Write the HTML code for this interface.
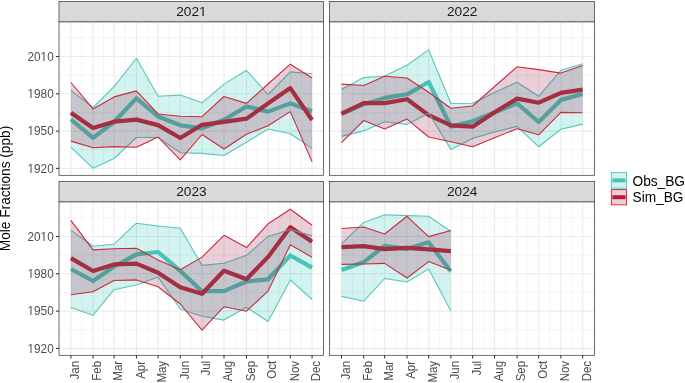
<!DOCTYPE html>
<html><head><meta charset="utf-8"><style>
html,body{margin:0;padding:0;background:#fff;}
body{width:685px;height:383px;overflow:hidden;}
svg{display:block;font-family:"Liberation Sans",sans-serif;will-change:transform;}
</style></head><body>
<svg width="685" height="383" viewBox="0 0 685 383" shape-rendering="auto">
<rect x="0" y="0" width="685" height="383" fill="#fff"/>
<defs>
<clipPath id="c2021"><rect x="59" y="21.8" width="264.5" height="153.5"/></clipPath>
<clipPath id="c2022"><rect x="329.5" y="21.8" width="265" height="153.5"/></clipPath>
<clipPath id="c2023"><rect x="59" y="201.8" width="264.5" height="153.5"/></clipPath>
<clipPath id="c2024"><rect x="329.5" y="201.8" width="265" height="153.5"/></clipPath>
</defs>
<g clip-path="url(#c2021)"><line x1="59.9" y1="21.8" x2="59.9" y2="175.3" stroke="#EBEBEB" stroke-width="0.55"/><line x1="81.97" y1="21.8" x2="81.97" y2="175.3" stroke="#EBEBEB" stroke-width="0.55"/><line x1="103.56" y1="21.8" x2="103.56" y2="175.3" stroke="#EBEBEB" stroke-width="0.55"/><line x1="125.25" y1="21.8" x2="125.25" y2="175.3" stroke="#EBEBEB" stroke-width="0.55"/><line x1="147.25" y1="21.8" x2="147.25" y2="175.3" stroke="#EBEBEB" stroke-width="0.55"/><line x1="169.18" y1="21.8" x2="169.18" y2="175.3" stroke="#EBEBEB" stroke-width="0.55"/><line x1="191.13" y1="21.8" x2="191.13" y2="175.3" stroke="#EBEBEB" stroke-width="0.55"/><line x1="213" y1="21.8" x2="213" y2="175.3" stroke="#EBEBEB" stroke-width="0.55"/><line x1="235.24" y1="21.8" x2="235.24" y2="175.3" stroke="#EBEBEB" stroke-width="0.55"/><line x1="257.27" y1="21.8" x2="257.27" y2="175.3" stroke="#EBEBEB" stroke-width="0.55"/><line x1="279.19" y1="21.8" x2="279.19" y2="175.3" stroke="#EBEBEB" stroke-width="0.55"/><line x1="301.19" y1="21.8" x2="301.19" y2="175.3" stroke="#EBEBEB" stroke-width="0.55"/><line x1="323.07" y1="21.8" x2="323.07" y2="175.3" stroke="#EBEBEB" stroke-width="0.55"/><line x1="59" y1="37.85" x2="323.5" y2="37.85" stroke="#EBEBEB" stroke-width="0.55"/><line x1="59" y1="75.15" x2="323.5" y2="75.15" stroke="#EBEBEB" stroke-width="0.55"/><line x1="59" y1="112.45" x2="323.5" y2="112.45" stroke="#EBEBEB" stroke-width="0.55"/><line x1="59" y1="149.75" x2="323.5" y2="149.75" stroke="#EBEBEB" stroke-width="0.55"/><line x1="70.9" y1="21.8" x2="70.9" y2="175.3" stroke="#EBEBEB" stroke-width="1.07"/><line x1="93.05" y1="21.8" x2="93.05" y2="175.3" stroke="#EBEBEB" stroke-width="1.07"/><line x1="114.07" y1="21.8" x2="114.07" y2="175.3" stroke="#EBEBEB" stroke-width="1.07"/><line x1="136.43" y1="21.8" x2="136.43" y2="175.3" stroke="#EBEBEB" stroke-width="1.07"/><line x1="158.08" y1="21.8" x2="158.08" y2="175.3" stroke="#EBEBEB" stroke-width="1.07"/><line x1="180.27" y1="21.8" x2="180.27" y2="175.3" stroke="#EBEBEB" stroke-width="1.07"/><line x1="202" y1="21.8" x2="202" y2="175.3" stroke="#EBEBEB" stroke-width="1.07"/><line x1="224" y1="21.8" x2="224" y2="175.3" stroke="#EBEBEB" stroke-width="1.07"/><line x1="246.47" y1="21.8" x2="246.47" y2="175.3" stroke="#EBEBEB" stroke-width="1.07"/><line x1="268.08" y1="21.8" x2="268.08" y2="175.3" stroke="#EBEBEB" stroke-width="1.07"/><line x1="290.3" y1="21.8" x2="290.3" y2="175.3" stroke="#EBEBEB" stroke-width="1.07"/><line x1="312.07" y1="21.8" x2="312.07" y2="175.3" stroke="#EBEBEB" stroke-width="1.07"/><line x1="59" y1="56.5" x2="323.5" y2="56.5" stroke="#EBEBEB" stroke-width="1.07"/><line x1="59" y1="93.8" x2="323.5" y2="93.8" stroke="#EBEBEB" stroke-width="1.07"/><line x1="59" y1="131.1" x2="323.5" y2="131.1" stroke="#EBEBEB" stroke-width="1.07"/><line x1="59" y1="168.4" x2="323.5" y2="168.4" stroke="#EBEBEB" stroke-width="1.07"/><polyline points="70.9,119.5 93.05,137.9 114.07,122 136.43,98.3 158.08,116.5 180.27,125.3 202,128.3 224,119.7 246.47,106.5 268.08,111.6 290.3,103.4 312.07,111.3" fill="none" stroke="#57C6BD" stroke-width="4.2" stroke-linejoin="round" stroke-linecap="butt"/><polyline points="70.9,112.7 93.05,127.9 114.07,121.7 136.43,119.6 158.08,125.1 180.27,138 202,124.8 224,121.8 246.47,118.7 268.08,103.4 290.3,88.1 312.07,120" fill="none" stroke="#CD1E32" stroke-width="4.2" stroke-linejoin="round" stroke-linecap="butt"/><polygon points="70.9,90.4 93.05,107.5 114.07,86.6 136.43,58.25 158.08,96.3 180.27,95.1 202,102.8 224,84.1 246.47,70.3 268.08,94.5 290.3,71.9 312.07,73.7 312.07,148.4 290.3,133.8 268.08,129 246.47,142.2 224,155.5 202,153.4 180.27,152.7 158.08,137.5 136.43,137.5 114.07,158.5 93.05,168.3 70.9,147.1" fill="#00BCAC" fill-opacity="0.178" stroke="none"/><polyline points="70.9,90.4 93.05,107.5 114.07,86.6 136.43,58.25 158.08,96.3 180.27,95.1 202,102.8 224,84.1 246.47,70.3 268.08,94.5 290.3,71.9 312.07,73.7" fill="none" stroke="#57C6BD" stroke-width="1.1" stroke-linejoin="round"/><polyline points="70.9,147.1 93.05,168.3 114.07,158.5 136.43,137.5 158.08,137.5 180.27,152.7 202,153.4 224,155.5 246.47,142.2 268.08,129 290.3,133.8 312.07,148.4" fill="none" stroke="#57C6BD" stroke-width="1.1" stroke-linejoin="round"/><polygon points="70.9,82.5 93.05,108.9 114.07,96.9 136.43,90.9 158.08,114 180.27,116.3 202,116.7 224,96.5 246.47,103.4 268.08,84 290.3,64.2 312.07,78 312.07,161.8 290.3,111.6 268.08,125.7 246.47,134.3 224,149 202,134.5 180.27,159.9 158.08,137.1 136.43,147.2 114.07,146.6 93.05,147.8 70.9,141.1" fill="#960032" fill-opacity="0.19" stroke="none"/><polyline points="70.9,82.5 93.05,108.9 114.07,96.9 136.43,90.9 158.08,114 180.27,116.3 202,116.7 224,96.5 246.47,103.4 268.08,84 290.3,64.2 312.07,78" fill="none" stroke="#CC2A3C" stroke-width="1.1" stroke-linejoin="round"/><polyline points="70.9,141.1 93.05,147.8 114.07,146.6 136.43,147.2 158.08,137.1 180.27,159.9 202,134.5 224,149 246.47,134.3 268.08,125.7 290.3,111.6 312.07,161.8" fill="none" stroke="#CC2A3C" stroke-width="1.1" stroke-linejoin="round"/></g>
<rect x="59" y="21.8" width="264.5" height="153.5" fill="none" stroke="#333333" stroke-width="0.7"/>
<rect x="59" y="1.35" width="264.5" height="20.45" fill="#D9D9D9" stroke="#333333" stroke-width="0.7"/>
<text transform="translate(191.45,16.35)" font-size="13.7" fill="#1A1A1A" text-anchor="middle">2021</text>
<rect x="199.81" y="15" width="2.7" height="1" fill="#D9D9D9"/>
<rect x="203.73" y="15" width="2.59" height="1" fill="#D9D9D9"/>
<g clip-path="url(#c2022)"><line x1="330.5" y1="21.8" x2="330.5" y2="175.3" stroke="#EBEBEB" stroke-width="0.55"/><line x1="352.58" y1="21.8" x2="352.58" y2="175.3" stroke="#EBEBEB" stroke-width="0.55"/><line x1="374.16" y1="21.8" x2="374.16" y2="175.3" stroke="#EBEBEB" stroke-width="0.55"/><line x1="395.85" y1="21.8" x2="395.85" y2="175.3" stroke="#EBEBEB" stroke-width="0.55"/><line x1="417.86" y1="21.8" x2="417.86" y2="175.3" stroke="#EBEBEB" stroke-width="0.55"/><line x1="439.78" y1="21.8" x2="439.78" y2="175.3" stroke="#EBEBEB" stroke-width="0.55"/><line x1="461.74" y1="21.8" x2="461.74" y2="175.3" stroke="#EBEBEB" stroke-width="0.55"/><line x1="483.6" y1="21.8" x2="483.6" y2="175.3" stroke="#EBEBEB" stroke-width="0.55"/><line x1="505.84" y1="21.8" x2="505.84" y2="175.3" stroke="#EBEBEB" stroke-width="0.55"/><line x1="527.88" y1="21.8" x2="527.88" y2="175.3" stroke="#EBEBEB" stroke-width="0.55"/><line x1="549.79" y1="21.8" x2="549.79" y2="175.3" stroke="#EBEBEB" stroke-width="0.55"/><line x1="571.79" y1="21.8" x2="571.79" y2="175.3" stroke="#EBEBEB" stroke-width="0.55"/><line x1="593.67" y1="21.8" x2="593.67" y2="175.3" stroke="#EBEBEB" stroke-width="0.55"/><line x1="329.5" y1="37.85" x2="594.5" y2="37.85" stroke="#EBEBEB" stroke-width="0.55"/><line x1="329.5" y1="75.15" x2="594.5" y2="75.15" stroke="#EBEBEB" stroke-width="0.55"/><line x1="329.5" y1="112.45" x2="594.5" y2="112.45" stroke="#EBEBEB" stroke-width="0.55"/><line x1="329.5" y1="149.75" x2="594.5" y2="149.75" stroke="#EBEBEB" stroke-width="0.55"/><line x1="341.5" y1="21.8" x2="341.5" y2="175.3" stroke="#EBEBEB" stroke-width="1.07"/><line x1="363.65" y1="21.8" x2="363.65" y2="175.3" stroke="#EBEBEB" stroke-width="1.07"/><line x1="384.67" y1="21.8" x2="384.67" y2="175.3" stroke="#EBEBEB" stroke-width="1.07"/><line x1="407.03" y1="21.8" x2="407.03" y2="175.3" stroke="#EBEBEB" stroke-width="1.07"/><line x1="428.68" y1="21.8" x2="428.68" y2="175.3" stroke="#EBEBEB" stroke-width="1.07"/><line x1="450.87" y1="21.8" x2="450.87" y2="175.3" stroke="#EBEBEB" stroke-width="1.07"/><line x1="472.6" y1="21.8" x2="472.6" y2="175.3" stroke="#EBEBEB" stroke-width="1.07"/><line x1="494.6" y1="21.8" x2="494.6" y2="175.3" stroke="#EBEBEB" stroke-width="1.07"/><line x1="517.07" y1="21.8" x2="517.07" y2="175.3" stroke="#EBEBEB" stroke-width="1.07"/><line x1="538.68" y1="21.8" x2="538.68" y2="175.3" stroke="#EBEBEB" stroke-width="1.07"/><line x1="560.9" y1="21.8" x2="560.9" y2="175.3" stroke="#EBEBEB" stroke-width="1.07"/><line x1="582.67" y1="21.8" x2="582.67" y2="175.3" stroke="#EBEBEB" stroke-width="1.07"/><line x1="329.5" y1="56.5" x2="594.5" y2="56.5" stroke="#EBEBEB" stroke-width="1.07"/><line x1="329.5" y1="93.8" x2="594.5" y2="93.8" stroke="#EBEBEB" stroke-width="1.07"/><line x1="329.5" y1="131.1" x2="594.5" y2="131.1" stroke="#EBEBEB" stroke-width="1.07"/><line x1="329.5" y1="168.4" x2="594.5" y2="168.4" stroke="#EBEBEB" stroke-width="1.07"/><polyline points="341.5,113.5 363.65,104.2 384.67,97.9 407.03,94.3 428.68,82 450.87,126.5 472.6,121.2 494.6,112.4 517.07,103.3 538.68,122 560.9,99.9 582.67,94" fill="none" stroke="#57C6BD" stroke-width="4.2" stroke-linejoin="round" stroke-linecap="butt"/><polyline points="341.5,113.9 363.65,103.1 384.67,103.1 407.03,99.2 428.68,115.1 450.87,125.3 472.6,126.7 494.6,112.2 517.07,98.6 538.68,102.7 560.9,92.9 582.67,89.6" fill="none" stroke="#CD1E32" stroke-width="4.2" stroke-linejoin="round" stroke-linecap="butt"/><polygon points="341.5,89.4 363.65,77.6 384.67,76 407.03,65.2 428.68,49.9 450.87,103.5 472.6,103.3 494.6,92.4 517.07,82.2 538.68,96.3 560.9,70.3 582.67,63.8 582.67,124.1 560.9,129.3 538.68,146.8 517.07,126.4 494.6,132 472.6,138.4 450.87,149.4 428.68,113 407.03,124.4 384.67,121.8 363.65,130.9 341.5,136.4" fill="#00BCAC" fill-opacity="0.178" stroke="none"/><polyline points="341.5,89.4 363.65,77.6 384.67,76 407.03,65.2 428.68,49.9 450.87,103.5 472.6,103.3 494.6,92.4 517.07,82.2 538.68,96.3 560.9,70.3 582.67,63.8" fill="none" stroke="#57C6BD" stroke-width="1.1" stroke-linejoin="round"/><polyline points="341.5,136.4 363.65,130.9 384.67,121.8 407.03,124.4 428.68,113 450.87,149.4 472.6,138.4 494.6,132 517.07,126.4 538.68,146.8 560.9,129.3 582.67,124.1" fill="none" stroke="#57C6BD" stroke-width="1.1" stroke-linejoin="round"/><polygon points="341.5,84.1 363.65,85.5 384.67,76.2 407.03,78 428.68,92.3 450.87,108.2 472.6,106 494.6,86.5 517.07,66.8 538.68,69.6 560.9,73.1 582.67,65.4 582.67,112.8 560.9,112.4 538.68,134.8 517.07,128.7 494.6,137.7 472.6,146.8 450.87,141.8 428.68,137 407.03,119.1 384.67,128.9 363.65,120.5 341.5,142.7" fill="#960032" fill-opacity="0.19" stroke="none"/><polyline points="341.5,84.1 363.65,85.5 384.67,76.2 407.03,78 428.68,92.3 450.87,108.2 472.6,106 494.6,86.5 517.07,66.8 538.68,69.6 560.9,73.1 582.67,65.4" fill="none" stroke="#CC2A3C" stroke-width="1.1" stroke-linejoin="round"/><polyline points="341.5,142.7 363.65,120.5 384.67,128.9 407.03,119.1 428.68,137 450.87,141.8 472.6,146.8 494.6,137.7 517.07,128.7 538.68,134.8 560.9,112.4 582.67,112.8" fill="none" stroke="#CC2A3C" stroke-width="1.1" stroke-linejoin="round"/></g>
<rect x="329.5" y="21.8" width="265" height="153.5" fill="none" stroke="#333333" stroke-width="0.7"/>
<rect x="329.5" y="1.35" width="265" height="20.45" fill="#D9D9D9" stroke="#333333" stroke-width="0.7"/>
<text transform="translate(462.2,16.35)" font-size="13.7" fill="#1A1A1A" text-anchor="middle">2022</text>
<g clip-path="url(#c2023)"><line x1="59.9" y1="201.8" x2="59.9" y2="355.3" stroke="#EBEBEB" stroke-width="0.55"/><line x1="81.97" y1="201.8" x2="81.97" y2="355.3" stroke="#EBEBEB" stroke-width="0.55"/><line x1="103.56" y1="201.8" x2="103.56" y2="355.3" stroke="#EBEBEB" stroke-width="0.55"/><line x1="125.25" y1="201.8" x2="125.25" y2="355.3" stroke="#EBEBEB" stroke-width="0.55"/><line x1="147.25" y1="201.8" x2="147.25" y2="355.3" stroke="#EBEBEB" stroke-width="0.55"/><line x1="169.18" y1="201.8" x2="169.18" y2="355.3" stroke="#EBEBEB" stroke-width="0.55"/><line x1="191.13" y1="201.8" x2="191.13" y2="355.3" stroke="#EBEBEB" stroke-width="0.55"/><line x1="213" y1="201.8" x2="213" y2="355.3" stroke="#EBEBEB" stroke-width="0.55"/><line x1="235.24" y1="201.8" x2="235.24" y2="355.3" stroke="#EBEBEB" stroke-width="0.55"/><line x1="257.27" y1="201.8" x2="257.27" y2="355.3" stroke="#EBEBEB" stroke-width="0.55"/><line x1="279.19" y1="201.8" x2="279.19" y2="355.3" stroke="#EBEBEB" stroke-width="0.55"/><line x1="301.19" y1="201.8" x2="301.19" y2="355.3" stroke="#EBEBEB" stroke-width="0.55"/><line x1="323.07" y1="201.8" x2="323.07" y2="355.3" stroke="#EBEBEB" stroke-width="0.55"/><line x1="59" y1="217.85" x2="323.5" y2="217.85" stroke="#EBEBEB" stroke-width="0.55"/><line x1="59" y1="255.15" x2="323.5" y2="255.15" stroke="#EBEBEB" stroke-width="0.55"/><line x1="59" y1="292.45" x2="323.5" y2="292.45" stroke="#EBEBEB" stroke-width="0.55"/><line x1="59" y1="329.75" x2="323.5" y2="329.75" stroke="#EBEBEB" stroke-width="0.55"/><line x1="70.9" y1="201.8" x2="70.9" y2="355.3" stroke="#EBEBEB" stroke-width="1.07"/><line x1="93.05" y1="201.8" x2="93.05" y2="355.3" stroke="#EBEBEB" stroke-width="1.07"/><line x1="114.07" y1="201.8" x2="114.07" y2="355.3" stroke="#EBEBEB" stroke-width="1.07"/><line x1="136.43" y1="201.8" x2="136.43" y2="355.3" stroke="#EBEBEB" stroke-width="1.07"/><line x1="158.08" y1="201.8" x2="158.08" y2="355.3" stroke="#EBEBEB" stroke-width="1.07"/><line x1="180.27" y1="201.8" x2="180.27" y2="355.3" stroke="#EBEBEB" stroke-width="1.07"/><line x1="202" y1="201.8" x2="202" y2="355.3" stroke="#EBEBEB" stroke-width="1.07"/><line x1="224" y1="201.8" x2="224" y2="355.3" stroke="#EBEBEB" stroke-width="1.07"/><line x1="246.47" y1="201.8" x2="246.47" y2="355.3" stroke="#EBEBEB" stroke-width="1.07"/><line x1="268.08" y1="201.8" x2="268.08" y2="355.3" stroke="#EBEBEB" stroke-width="1.07"/><line x1="290.3" y1="201.8" x2="290.3" y2="355.3" stroke="#EBEBEB" stroke-width="1.07"/><line x1="312.07" y1="201.8" x2="312.07" y2="355.3" stroke="#EBEBEB" stroke-width="1.07"/><line x1="59" y1="236.5" x2="323.5" y2="236.5" stroke="#EBEBEB" stroke-width="1.07"/><line x1="59" y1="273.8" x2="323.5" y2="273.8" stroke="#EBEBEB" stroke-width="1.07"/><line x1="59" y1="311.1" x2="323.5" y2="311.1" stroke="#EBEBEB" stroke-width="1.07"/><line x1="59" y1="348.4" x2="323.5" y2="348.4" stroke="#EBEBEB" stroke-width="1.07"/><polyline points="70.9,269 93.05,281 114.07,266.5 136.43,254.3 158.08,252 180.27,270.9 202,291.2 224,291.1 246.47,281.5 268.08,279.3 290.3,255.5 312.07,267.7" fill="none" stroke="#57C6BD" stroke-width="4.2" stroke-linejoin="round" stroke-linecap="butt"/><polyline points="70.9,258.1 93.05,271 114.07,264.4 136.43,263.6 158.08,272.8 180.27,287.2 202,293.8 224,270.7 246.47,279.2 268.08,256.9 290.3,227.2 312.07,241.7" fill="none" stroke="#CD1E32" stroke-width="4.2" stroke-linejoin="round" stroke-linecap="butt"/><polygon points="70.9,230.1 93.05,246.2 114.07,244.2 136.43,223.2 158.08,226 180.27,228.3 202,265.4 224,263.2 246.47,255.3 268.08,236.4 290.3,229.4 312.07,235.7 312.07,299.5 290.3,279.9 268.08,321.5 246.47,307.3 224,320.1 202,316.3 180.27,309 158.08,277.1 136.43,285 114.07,289.7 93.05,315.2 70.9,307.4" fill="#00BCAC" fill-opacity="0.178" stroke="none"/><polyline points="70.9,230.1 93.05,246.2 114.07,244.2 136.43,223.2 158.08,226 180.27,228.3 202,265.4 224,263.2 246.47,255.3 268.08,236.4 290.3,229.4 312.07,235.7" fill="none" stroke="#57C6BD" stroke-width="1.1" stroke-linejoin="round"/><polyline points="70.9,307.4 93.05,315.2 114.07,289.7 136.43,285 158.08,277.1 180.27,309 202,316.3 224,320.1 246.47,307.3 268.08,321.5 290.3,279.9 312.07,299.5" fill="none" stroke="#57C6BD" stroke-width="1.1" stroke-linejoin="round"/><polygon points="70.9,220.3 93.05,249.9 114.07,248.8 136.43,248.2 158.08,260 180.27,269.8 202,257.1 224,235.3 246.47,247.6 268.08,223.8 290.3,209.2 312.07,225.2 312.07,257.3 290.3,244.7 268.08,291.1 246.47,311.2 224,306.7 202,330.2 180.27,304 158.08,286.7 136.43,279.9 114.07,280.5 93.05,291.8 70.9,294.8" fill="#960032" fill-opacity="0.19" stroke="none"/><polyline points="70.9,220.3 93.05,249.9 114.07,248.8 136.43,248.2 158.08,260 180.27,269.8 202,257.1 224,235.3 246.47,247.6 268.08,223.8 290.3,209.2 312.07,225.2" fill="none" stroke="#CC2A3C" stroke-width="1.1" stroke-linejoin="round"/><polyline points="70.9,294.8 93.05,291.8 114.07,280.5 136.43,279.9 158.08,286.7 180.27,304 202,330.2 224,306.7 246.47,311.2 268.08,291.1 290.3,244.7 312.07,257.3" fill="none" stroke="#CC2A3C" stroke-width="1.1" stroke-linejoin="round"/></g>
<rect x="59" y="201.8" width="264.5" height="153.5" fill="none" stroke="#333333" stroke-width="0.7"/>
<rect x="59" y="181.35" width="264.5" height="20.45" fill="#D9D9D9" stroke="#333333" stroke-width="0.7"/>
<text transform="translate(191.45,196.35)" font-size="13.7" fill="#1A1A1A" text-anchor="middle">2023</text>
<g clip-path="url(#c2024)"><line x1="330.5" y1="201.8" x2="330.5" y2="355.3" stroke="#EBEBEB" stroke-width="0.55"/><line x1="352.58" y1="201.8" x2="352.58" y2="355.3" stroke="#EBEBEB" stroke-width="0.55"/><line x1="374.16" y1="201.8" x2="374.16" y2="355.3" stroke="#EBEBEB" stroke-width="0.55"/><line x1="395.85" y1="201.8" x2="395.85" y2="355.3" stroke="#EBEBEB" stroke-width="0.55"/><line x1="417.86" y1="201.8" x2="417.86" y2="355.3" stroke="#EBEBEB" stroke-width="0.55"/><line x1="439.78" y1="201.8" x2="439.78" y2="355.3" stroke="#EBEBEB" stroke-width="0.55"/><line x1="461.74" y1="201.8" x2="461.74" y2="355.3" stroke="#EBEBEB" stroke-width="0.55"/><line x1="483.6" y1="201.8" x2="483.6" y2="355.3" stroke="#EBEBEB" stroke-width="0.55"/><line x1="505.84" y1="201.8" x2="505.84" y2="355.3" stroke="#EBEBEB" stroke-width="0.55"/><line x1="527.88" y1="201.8" x2="527.88" y2="355.3" stroke="#EBEBEB" stroke-width="0.55"/><line x1="549.79" y1="201.8" x2="549.79" y2="355.3" stroke="#EBEBEB" stroke-width="0.55"/><line x1="571.79" y1="201.8" x2="571.79" y2="355.3" stroke="#EBEBEB" stroke-width="0.55"/><line x1="593.67" y1="201.8" x2="593.67" y2="355.3" stroke="#EBEBEB" stroke-width="0.55"/><line x1="329.5" y1="217.85" x2="594.5" y2="217.85" stroke="#EBEBEB" stroke-width="0.55"/><line x1="329.5" y1="255.15" x2="594.5" y2="255.15" stroke="#EBEBEB" stroke-width="0.55"/><line x1="329.5" y1="292.45" x2="594.5" y2="292.45" stroke="#EBEBEB" stroke-width="0.55"/><line x1="329.5" y1="329.75" x2="594.5" y2="329.75" stroke="#EBEBEB" stroke-width="0.55"/><line x1="341.5" y1="201.8" x2="341.5" y2="355.3" stroke="#EBEBEB" stroke-width="1.07"/><line x1="363.65" y1="201.8" x2="363.65" y2="355.3" stroke="#EBEBEB" stroke-width="1.07"/><line x1="384.67" y1="201.8" x2="384.67" y2="355.3" stroke="#EBEBEB" stroke-width="1.07"/><line x1="407.03" y1="201.8" x2="407.03" y2="355.3" stroke="#EBEBEB" stroke-width="1.07"/><line x1="428.68" y1="201.8" x2="428.68" y2="355.3" stroke="#EBEBEB" stroke-width="1.07"/><line x1="450.87" y1="201.8" x2="450.87" y2="355.3" stroke="#EBEBEB" stroke-width="1.07"/><line x1="472.6" y1="201.8" x2="472.6" y2="355.3" stroke="#EBEBEB" stroke-width="1.07"/><line x1="494.6" y1="201.8" x2="494.6" y2="355.3" stroke="#EBEBEB" stroke-width="1.07"/><line x1="517.07" y1="201.8" x2="517.07" y2="355.3" stroke="#EBEBEB" stroke-width="1.07"/><line x1="538.68" y1="201.8" x2="538.68" y2="355.3" stroke="#EBEBEB" stroke-width="1.07"/><line x1="560.9" y1="201.8" x2="560.9" y2="355.3" stroke="#EBEBEB" stroke-width="1.07"/><line x1="582.67" y1="201.8" x2="582.67" y2="355.3" stroke="#EBEBEB" stroke-width="1.07"/><line x1="329.5" y1="236.5" x2="594.5" y2="236.5" stroke="#EBEBEB" stroke-width="1.07"/><line x1="329.5" y1="273.8" x2="594.5" y2="273.8" stroke="#EBEBEB" stroke-width="1.07"/><line x1="329.5" y1="311.1" x2="594.5" y2="311.1" stroke="#EBEBEB" stroke-width="1.07"/><line x1="329.5" y1="348.4" x2="594.5" y2="348.4" stroke="#EBEBEB" stroke-width="1.07"/><polyline points="341.5,270 363.65,262.2 384.67,245.8 407.03,248.8 428.68,242.3 450.87,271.6" fill="none" stroke="#57C6BD" stroke-width="4.2" stroke-linejoin="round" stroke-linecap="butt"/><polyline points="341.5,247.1 363.65,246.1 384.67,249.2 407.03,247.9 428.68,249.4 450.87,251.1" fill="none" stroke="#CD1E32" stroke-width="4.2" stroke-linejoin="round" stroke-linecap="butt"/><polygon points="341.5,243.8 363.65,222.4 384.67,214.8 407.03,215.6 428.68,216.3 450.87,231.5 450.87,311.1 428.68,268.9 407.03,282 384.67,278.5 363.65,301.3 341.5,296.4" fill="#00BCAC" fill-opacity="0.178" stroke="none"/><polyline points="341.5,243.8 363.65,222.4 384.67,214.8 407.03,215.6 428.68,216.3 450.87,231.5" fill="none" stroke="#57C6BD" stroke-width="1.1" stroke-linejoin="round"/><polyline points="341.5,296.4 363.65,301.3 384.67,278.5 407.03,282 428.68,268.9 450.87,311.1" fill="none" stroke="#57C6BD" stroke-width="1.1" stroke-linejoin="round"/><polygon points="341.5,228.5 363.65,227 384.67,234 407.03,216.3 428.68,236.6 450.87,230.5 450.87,270.3 428.68,261.6 407.03,278 384.67,263.4 363.65,264 341.5,264.4" fill="#960032" fill-opacity="0.19" stroke="none"/><polyline points="341.5,228.5 363.65,227 384.67,234 407.03,216.3 428.68,236.6 450.87,230.5" fill="none" stroke="#CC2A3C" stroke-width="1.1" stroke-linejoin="round"/><polyline points="341.5,264.4 363.65,264 384.67,263.4 407.03,278 428.68,261.6 450.87,270.3" fill="none" stroke="#CC2A3C" stroke-width="1.1" stroke-linejoin="round"/></g>
<rect x="329.5" y="201.8" width="265" height="153.5" fill="none" stroke="#333333" stroke-width="0.7"/>
<rect x="329.5" y="181.35" width="265" height="20.45" fill="#D9D9D9" stroke="#333333" stroke-width="0.7"/>
<text transform="translate(462.2,196.35)" font-size="13.7" fill="#1A1A1A" text-anchor="middle">2024</text>
<line x1="55.9" y1="56.5" x2="59" y2="56.5" stroke="#333333" stroke-width="1.07"/>
<text transform="translate(53.7,60.8) scale(1,1.04)" font-size="11.8" fill="#4D4D4D" text-anchor="end">2010</text>
<rect x="41.17" y="60" width="2.37" height="1" fill="#fff"/>
<rect x="44.58" y="60" width="2.28" height="1" fill="#fff"/>
<line x1="55.9" y1="93.8" x2="59" y2="93.8" stroke="#333333" stroke-width="1.07"/>
<text transform="translate(53.7,98.1) scale(1,1.04)" font-size="11.8" fill="#4D4D4D" text-anchor="end">1980</text>
<rect x="28.05" y="97" width="2.37" height="1" fill="#fff"/>
<rect x="31.46" y="97" width="2.28" height="1" fill="#fff"/>
<line x1="55.9" y1="131.1" x2="59" y2="131.1" stroke="#333333" stroke-width="1.07"/>
<text transform="translate(53.7,135.4) scale(1,1.04)" font-size="11.8" fill="#4D4D4D" text-anchor="end">1950</text>
<rect x="28.05" y="134" width="2.37" height="1" fill="#fff"/>
<rect x="31.46" y="134" width="2.28" height="1" fill="#fff"/>
<line x1="55.9" y1="168.4" x2="59" y2="168.4" stroke="#333333" stroke-width="1.07"/>
<text transform="translate(53.7,172.7) scale(1,1.04)" font-size="11.8" fill="#4D4D4D" text-anchor="end">1920</text>
<rect x="28.05" y="172" width="2.37" height="1" fill="#fff"/>
<rect x="31.46" y="172" width="2.28" height="1" fill="#fff"/>
<line x1="55.9" y1="236.5" x2="59" y2="236.5" stroke="#333333" stroke-width="1.07"/>
<text transform="translate(53.7,240.8) scale(1,1.04)" font-size="11.8" fill="#4D4D4D" text-anchor="end">2010</text>
<rect x="41.17" y="240" width="2.37" height="1" fill="#fff"/>
<rect x="44.58" y="240" width="2.28" height="1" fill="#fff"/>
<line x1="55.9" y1="273.8" x2="59" y2="273.8" stroke="#333333" stroke-width="1.07"/>
<text transform="translate(53.7,278.1) scale(1,1.04)" font-size="11.8" fill="#4D4D4D" text-anchor="end">1980</text>
<rect x="28.05" y="277" width="2.37" height="1" fill="#fff"/>
<rect x="31.46" y="277" width="2.28" height="1" fill="#fff"/>
<line x1="55.9" y1="311.1" x2="59" y2="311.1" stroke="#333333" stroke-width="1.07"/>
<text transform="translate(53.7,315.4) scale(1,1.04)" font-size="11.8" fill="#4D4D4D" text-anchor="end">1950</text>
<rect x="28.05" y="314" width="2.37" height="1" fill="#fff"/>
<rect x="31.46" y="314" width="2.28" height="1" fill="#fff"/>
<line x1="55.9" y1="348.4" x2="59" y2="348.4" stroke="#333333" stroke-width="1.07"/>
<text transform="translate(53.7,352.7) scale(1,1.04)" font-size="11.8" fill="#4D4D4D" text-anchor="end">1920</text>
<rect x="28.05" y="352" width="2.37" height="1" fill="#fff"/>
<rect x="31.46" y="352" width="2.28" height="1" fill="#fff"/>
<line x1="70.9" y1="355.3" x2="70.9" y2="358.6" stroke="#333333" stroke-width="1.07"/>
<text transform="translate(79.2,360.9) rotate(-90) scale(1,1.04)" font-size="11.5" fill="#4D4D4D" text-anchor="end">Jan</text>
<line x1="93.05" y1="355.3" x2="93.05" y2="358.6" stroke="#333333" stroke-width="1.07"/>
<text transform="translate(101.35,360.9) rotate(-90) scale(1,1.04)" font-size="11.5" fill="#4D4D4D" text-anchor="end">Feb</text>
<line x1="114.07" y1="355.3" x2="114.07" y2="358.6" stroke="#333333" stroke-width="1.07"/>
<text transform="translate(122.37,360.9) rotate(-90) scale(1,1.04)" font-size="11.5" fill="#4D4D4D" text-anchor="end">Mar</text>
<line x1="136.43" y1="355.3" x2="136.43" y2="358.6" stroke="#333333" stroke-width="1.07"/>
<text transform="translate(144.73,360.9) rotate(-90) scale(1,1.04)" font-size="11.5" fill="#4D4D4D" text-anchor="end">Apr</text>
<line x1="158.08" y1="355.3" x2="158.08" y2="358.6" stroke="#333333" stroke-width="1.07"/>
<text transform="translate(166.38,360.9) rotate(-90) scale(1,1.04)" font-size="11.5" fill="#4D4D4D" text-anchor="end">May</text>
<line x1="180.27" y1="355.3" x2="180.27" y2="358.6" stroke="#333333" stroke-width="1.07"/>
<text transform="translate(188.57,360.9) rotate(-90) scale(1,1.04)" font-size="11.5" fill="#4D4D4D" text-anchor="end">Jun</text>
<line x1="202" y1="355.3" x2="202" y2="358.6" stroke="#333333" stroke-width="1.07"/>
<text transform="translate(210.3,360.9) rotate(-90) scale(1,1.04)" font-size="11.5" fill="#4D4D4D" text-anchor="end">Jul</text>
<line x1="224" y1="355.3" x2="224" y2="358.6" stroke="#333333" stroke-width="1.07"/>
<text transform="translate(232.3,360.9) rotate(-90) scale(1,1.04)" font-size="11.5" fill="#4D4D4D" text-anchor="end">Aug</text>
<line x1="246.47" y1="355.3" x2="246.47" y2="358.6" stroke="#333333" stroke-width="1.07"/>
<text transform="translate(254.77,360.9) rotate(-90) scale(1,1.04)" font-size="11.5" fill="#4D4D4D" text-anchor="end">Sep</text>
<line x1="268.08" y1="355.3" x2="268.08" y2="358.6" stroke="#333333" stroke-width="1.07"/>
<text transform="translate(276.38,360.9) rotate(-90) scale(1,1.04)" font-size="11.5" fill="#4D4D4D" text-anchor="end">Oct</text>
<line x1="290.3" y1="355.3" x2="290.3" y2="358.6" stroke="#333333" stroke-width="1.07"/>
<text transform="translate(298.6,360.9) rotate(-90) scale(1,1.04)" font-size="11.5" fill="#4D4D4D" text-anchor="end">Nov</text>
<line x1="312.07" y1="355.3" x2="312.07" y2="358.6" stroke="#333333" stroke-width="1.07"/>
<text transform="translate(320.37,360.9) rotate(-90) scale(1,1.04)" font-size="11.5" fill="#4D4D4D" text-anchor="end">Dec</text>
<line x1="341.5" y1="355.3" x2="341.5" y2="358.6" stroke="#333333" stroke-width="1.07"/>
<text transform="translate(349.8,360.9) rotate(-90) scale(1,1.04)" font-size="11.5" fill="#4D4D4D" text-anchor="end">Jan</text>
<line x1="363.65" y1="355.3" x2="363.65" y2="358.6" stroke="#333333" stroke-width="1.07"/>
<text transform="translate(371.95,360.9) rotate(-90) scale(1,1.04)" font-size="11.5" fill="#4D4D4D" text-anchor="end">Feb</text>
<line x1="384.67" y1="355.3" x2="384.67" y2="358.6" stroke="#333333" stroke-width="1.07"/>
<text transform="translate(392.97,360.9) rotate(-90) scale(1,1.04)" font-size="11.5" fill="#4D4D4D" text-anchor="end">Mar</text>
<line x1="407.03" y1="355.3" x2="407.03" y2="358.6" stroke="#333333" stroke-width="1.07"/>
<text transform="translate(415.33,360.9) rotate(-90) scale(1,1.04)" font-size="11.5" fill="#4D4D4D" text-anchor="end">Apr</text>
<line x1="428.68" y1="355.3" x2="428.68" y2="358.6" stroke="#333333" stroke-width="1.07"/>
<text transform="translate(436.98,360.9) rotate(-90) scale(1,1.04)" font-size="11.5" fill="#4D4D4D" text-anchor="end">May</text>
<line x1="450.87" y1="355.3" x2="450.87" y2="358.6" stroke="#333333" stroke-width="1.07"/>
<text transform="translate(459.17,360.9) rotate(-90) scale(1,1.04)" font-size="11.5" fill="#4D4D4D" text-anchor="end">Jun</text>
<line x1="472.6" y1="355.3" x2="472.6" y2="358.6" stroke="#333333" stroke-width="1.07"/>
<text transform="translate(480.9,360.9) rotate(-90) scale(1,1.04)" font-size="11.5" fill="#4D4D4D" text-anchor="end">Jul</text>
<line x1="494.6" y1="355.3" x2="494.6" y2="358.6" stroke="#333333" stroke-width="1.07"/>
<text transform="translate(502.9,360.9) rotate(-90) scale(1,1.04)" font-size="11.5" fill="#4D4D4D" text-anchor="end">Aug</text>
<line x1="517.07" y1="355.3" x2="517.07" y2="358.6" stroke="#333333" stroke-width="1.07"/>
<text transform="translate(525.37,360.9) rotate(-90) scale(1,1.04)" font-size="11.5" fill="#4D4D4D" text-anchor="end">Sep</text>
<line x1="538.68" y1="355.3" x2="538.68" y2="358.6" stroke="#333333" stroke-width="1.07"/>
<text transform="translate(546.98,360.9) rotate(-90) scale(1,1.04)" font-size="11.5" fill="#4D4D4D" text-anchor="end">Oct</text>
<line x1="560.9" y1="355.3" x2="560.9" y2="358.6" stroke="#333333" stroke-width="1.07"/>
<text transform="translate(569.2,360.9) rotate(-90) scale(1,1.04)" font-size="11.5" fill="#4D4D4D" text-anchor="end">Nov</text>
<line x1="582.67" y1="355.3" x2="582.67" y2="358.6" stroke="#333333" stroke-width="1.07"/>
<text transform="translate(590.97,360.9) rotate(-90) scale(1,1.04)" font-size="11.5" fill="#4D4D4D" text-anchor="end">Dec</text>
<text transform="translate(10.4,188.5) rotate(-90) scale(1,1.04)" font-size="13.7" fill="#000" text-anchor="middle">Mole Fractions (ppb)</text>
<line x1="612.4" y1="180.35" x2="625.5" y2="180.35" stroke="#57C6BD" stroke-width="4.0"/>
<rect x="611.38" y="172.57" width="15.15" height="15.55" fill="#00BCAC" fill-opacity="0.178" stroke="#57C6BD" stroke-width="0.95"/>
<text transform="translate(632.5,185.7) scale(1,1.03)" font-size="13.7" fill="#000">Obs_BG</text>
<line x1="612.4" y1="197.2" x2="625.5" y2="197.2" stroke="#CD1E32" stroke-width="4.0"/>
<rect x="611.38" y="189.57" width="15.15" height="15.25" fill="#960032" fill-opacity="0.19" stroke="#CC2A3C" stroke-width="0.95"/>
<text transform="translate(632.5,201.8) scale(1,1.03)" font-size="13.7" fill="#000">Sim_BG</text>
</svg>
</body></html>
